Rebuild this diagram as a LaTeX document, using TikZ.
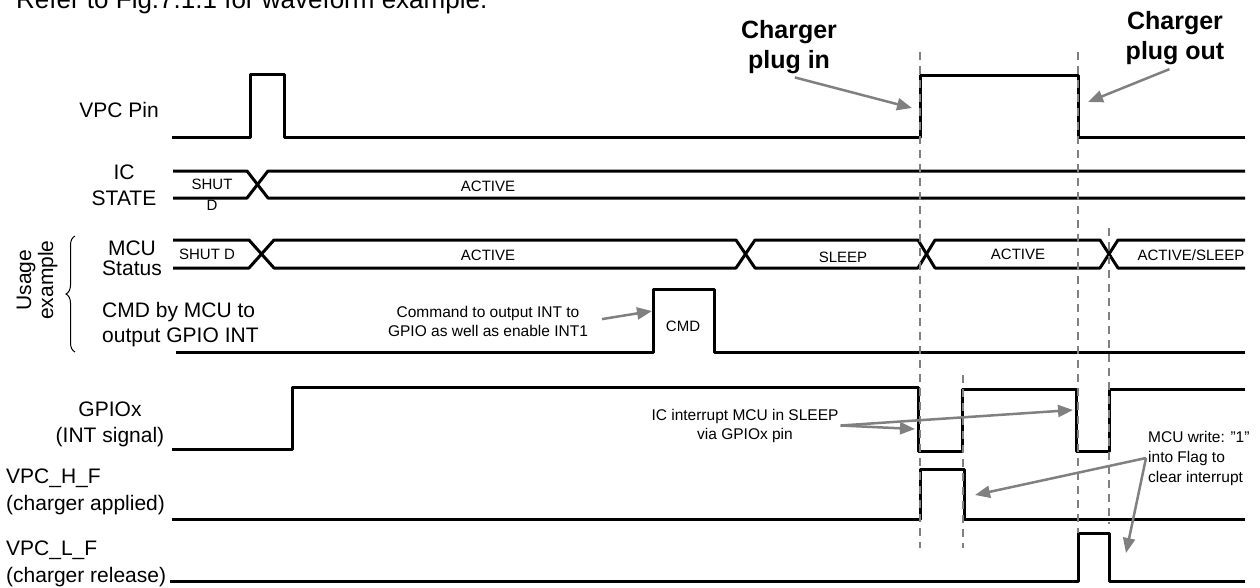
\documentclass[tikz,border=0pt]{standalone}
\usepackage{fontspec}
\setmainfont{Liberation Sans}
\usetikzlibrary{arrows.meta,positioning,decorations.pathreplacing}
\definecolor{guidegray}{RGB}{128,128,128}

\begin{document}
\begin{tikzpicture}[
    x=1pt,y=-1pt,
    sig/.style={line width=3pt, line join=round, black},
    guide/.style={draw=guidegray, line width=2pt, dash pattern=on 8pt off 6pt},
    callout/.style={draw=guidegray, line width=2.5pt, -{Triangle[length=15pt,width=12pt]}},
    lbl/.style={font=\fontsize{21}{26}\selectfont, align=center, inner sep=1pt},
    st/.style={font=\fontsize{15}{21}\selectfont, align=center, inner sep=1pt},
    note/.style={font=\fontsize{15.5}{19}\selectfont, align=center, inner sep=2pt},
    head/.style={font=\fontsize{25}{30}\selectfont\bfseries, align=center, inner sep=2pt}
]
\useasboundingbox (0,0) rectangle (1260,587);

% Title (cut at the top)
\node[lbl, anchor=base west, font=\fontsize{26}{30}\selectfont] (title) at (15,8) {Refer to Fig.7.1.1 for waveform example.};

% Signal names
\node[lbl, anchor=east] (vpcpin) at (160,110) {VPC Pin};
\node[lbl] (icstate) at (124,185) {IC\\STATE};
\node[lbl, font=\fontsize{21}{20}\selectfont] (mcustat) at (132,258) {MCU\\Status};
\node[lbl, anchor=west, align=left, font=\fontsize{21}{25}\selectfont] (cmdmcu) at (101,324.5) {CMD by MCU to\\output GPIO INT};
\node[lbl] (gpiox) at (110,424) {GPIOx\\(INT signal)};
\node[lbl, anchor=west, align=left, font=\fontsize{21}{27}\selectfont] (vpch) at (5,491.5) {VPC\_H\_F\\(charger applied)};
\node[lbl, anchor=west, align=left, font=\fontsize{21}{27}\selectfont] (vpcl) at (5,563.5) {VPC\_L\_F\\(charger release)};
\node[lbl, rotate=90, font=\fontsize{21}{22}\selectfont] (usage) at (37,280) {Usage\\example};
\draw[line width=1pt, decoration={brace, amplitude=9pt}, decorate] (75,352) -- (75,236);

% Waveforms
\draw[sig] (172,137) -- (250,137) -- (250,74) -- (284,74) -- (284,137) -- (920,137) -- (920,75) -- (1078,75) -- (1078,137) -- (1245,137);
\draw[sig] (173,171) -- (247,171) -- (268,198) -- (1245,198);
\draw[sig] (173,198) -- (247,198) -- (268,171) -- (1245,171);
\draw[sig] (173,240) -- (249,240) -- (274,268) -- (736,268) -- (755,240) -- (918,240) -- (935,268) -- (1100,268) -- (1118,240) -- (1245,240);
\draw[sig] (173,268) -- (249,268) -- (274,240) -- (736,240) -- (755,268) -- (918,268) -- (935,240) -- (1100,240) -- (1118,268) -- (1245,268);
\draw[sig] (176,352) -- (653,352) -- (653,289) -- (714,289) -- (714,352) -- (1245,352);
\draw[sig] (172,449) -- (292,449) -- (292,387) -- (918,387) -- (918,451) -- (962,451) -- (962,389) -- (1076,389) -- (1076,451) -- (1109,451) -- (1109,389) -- (1245,389);
\draw[sig] (172,519) -- (920,519) -- (920,469) -- (964,469) -- (964,519) -- (1245,519);
\draw[sig] (170,581) -- (1078,581) -- (1078,533) -- (1109,533) -- (1109,581) -- (1245,581);

% State texts
\node[st] (icshut) at (212,194.5) {SHUT\\D};
\node[st] (icact) at (488,186) {ACTIVE};
\node[st] (mcushut) at (207,254) {SHUT D};
\node[st] (mcuact) at (488,255) {ACTIVE};
\node[st] (mcusleep) at (843,257) {SLEEP};
\node[st] (mcuact2) at (1018,254) {ACTIVE};
\node[st] (mcuas) at (1191,255) {ACTIVE/SLEEP};
\node[st] (cmd) at (683,326) {CMD};

% Guides
\draw[guide] (920,52) -- (920,548);
\draw[guide] (963,375) -- (963,548);
\draw[guide] (1078,52) -- (1078,533);
\draw[guide] (1109,228) -- (1109,524);

% Notes
\node[head] (plugin) at (789,47) {Charger\\plug in};
\node[head] (plugout) at (1175,38) {Charger\\plug out};
\node[note] (cmdnote) at (488,321) {Command to output INT to\\GPIO as well as enable INT1};
\node[note] (icint) at (745,425.5) {IC interrupt MCU in SLEEP\\via GPIOx pin};
\node[note, anchor=west, align=left, font=\fontsize{15.5}{20}\selectfont] (mcuw) at (1146,458) {MCU write: "1"\\into Flag to\\clear interrupt};

\coordinate (pintip) at (912,108);
\coordinate (pouttip) at (1088,102);
\coordinate (cmdtip) at (652,311);
\coordinate (gfall) at (915,429);
\coordinate (gfall2) at (1073,410);
\coordinate (hfall) at (975,495);
\coordinate (lfall) at (1126,553);

% Arrows
\draw[callout, shorten <=6pt] (plugin.south) -- (pintip);
\draw[callout, shorten <=6pt] (plugout.south) -- (pouttip);
\draw[callout, shorten <=12pt] (cmdnote.east) -- (cmdtip);
\draw[callout] (icint.east) -- (gfall);
\draw[callout] (icint.east) -- (gfall2);
\draw[callout] (mcuw.west) -- (hfall);
\draw[callout] (mcuw.west) -- (lfall);

\end{tikzpicture}
\end{document}
